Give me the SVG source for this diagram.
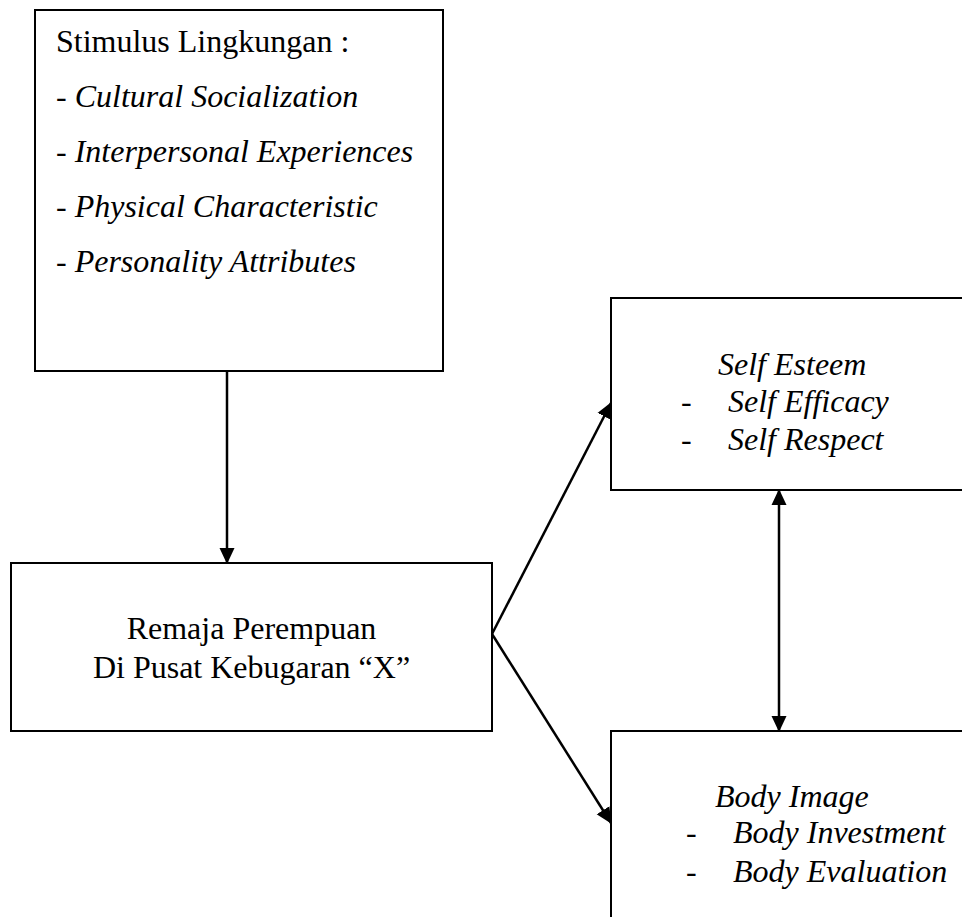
<svg xmlns="http://www.w3.org/2000/svg" width="962" height="917" viewBox="0 0 962 917">
<style>
.box{fill:#fff;stroke:#000;stroke-width:2}
.t{font-family:"Liberation Serif","Times New Roman",serif;font-size:32px;fill:#000}
.i{font-style:italic}
.c{stroke:#000;stroke-width:2.5;fill:none}
</style>
<defs>
<marker id="ah" markerUnits="userSpaceOnUse" markerWidth="16" markerHeight="16" viewBox="0 0 16 15" refX="15" refY="7.5" orient="auto-start-reverse">
<path d="M0,0 L16,7.5 L0,15 z" fill="#000"/>
</marker>
</defs>
<rect width="962" height="917" fill="#fff"/>
<g id="stimulus">
<rect class="box" x="35" y="10" width="408" height="361"/>
<text class="t" x="56" y="52">Stimulus Lingkungan :</text>
<text class="t" x="56" y="107">- <tspan class="i">Cultural Socialization</tspan></text>
<text class="t" x="56" y="162">- <tspan class="i">Interpersonal Experiences</tspan></text>
<text class="t" x="56" y="217">- <tspan class="i">Physical Characteristic</tspan></text>
<text class="t" x="56" y="272">- <tspan class="i">Personality Attributes</tspan></text>
</g>
<g id="remaja">
<rect class="box" x="11" y="563" width="481" height="168"/>
<text class="t" x="251.5" y="639" text-anchor="middle">Remaja Perempuan</text>
<text class="t" x="251.5" y="678" text-anchor="middle">Di Pusat Kebugaran “X”</text>
</g>
<g id="selfesteem">
<rect class="box" x="611" y="298" width="360" height="192"/>
<text class="t i" x="718" y="375">Self Esteem</text>
<text class="t" x="681" y="412">-</text>
<text class="t i" x="728" y="412">Self Efficacy</text>
<text class="t" x="681" y="450">-</text>
<text class="t i" x="728" y="450">Self Respect</text>
</g>
<g id="bodyimage">
<rect class="box" x="611" y="731" width="360" height="200"/>
<text class="t i" x="715" y="807">Body Image</text>
<text class="t" x="686" y="843">-</text>
<text class="t i" x="733" y="843">Body Investment</text>
<text class="t" x="686" y="882">-</text>
<text class="t i" x="733" y="882">Body Evaluation</text>
</g>
<g id="connectors">
<line class="c" x1="227" y1="371" x2="227" y2="563" marker-end="url(#ah)"/>
<line class="c" x1="492" y1="634" x2="611" y2="403" marker-end="url(#ah)"/>
<line class="c" x1="492" y1="634" x2="611" y2="823" marker-end="url(#ah)"/>
<line class="c" x1="779" y1="490" x2="779" y2="731" marker-start="url(#ah)" marker-end="url(#ah)"/>
</g>
</svg>
